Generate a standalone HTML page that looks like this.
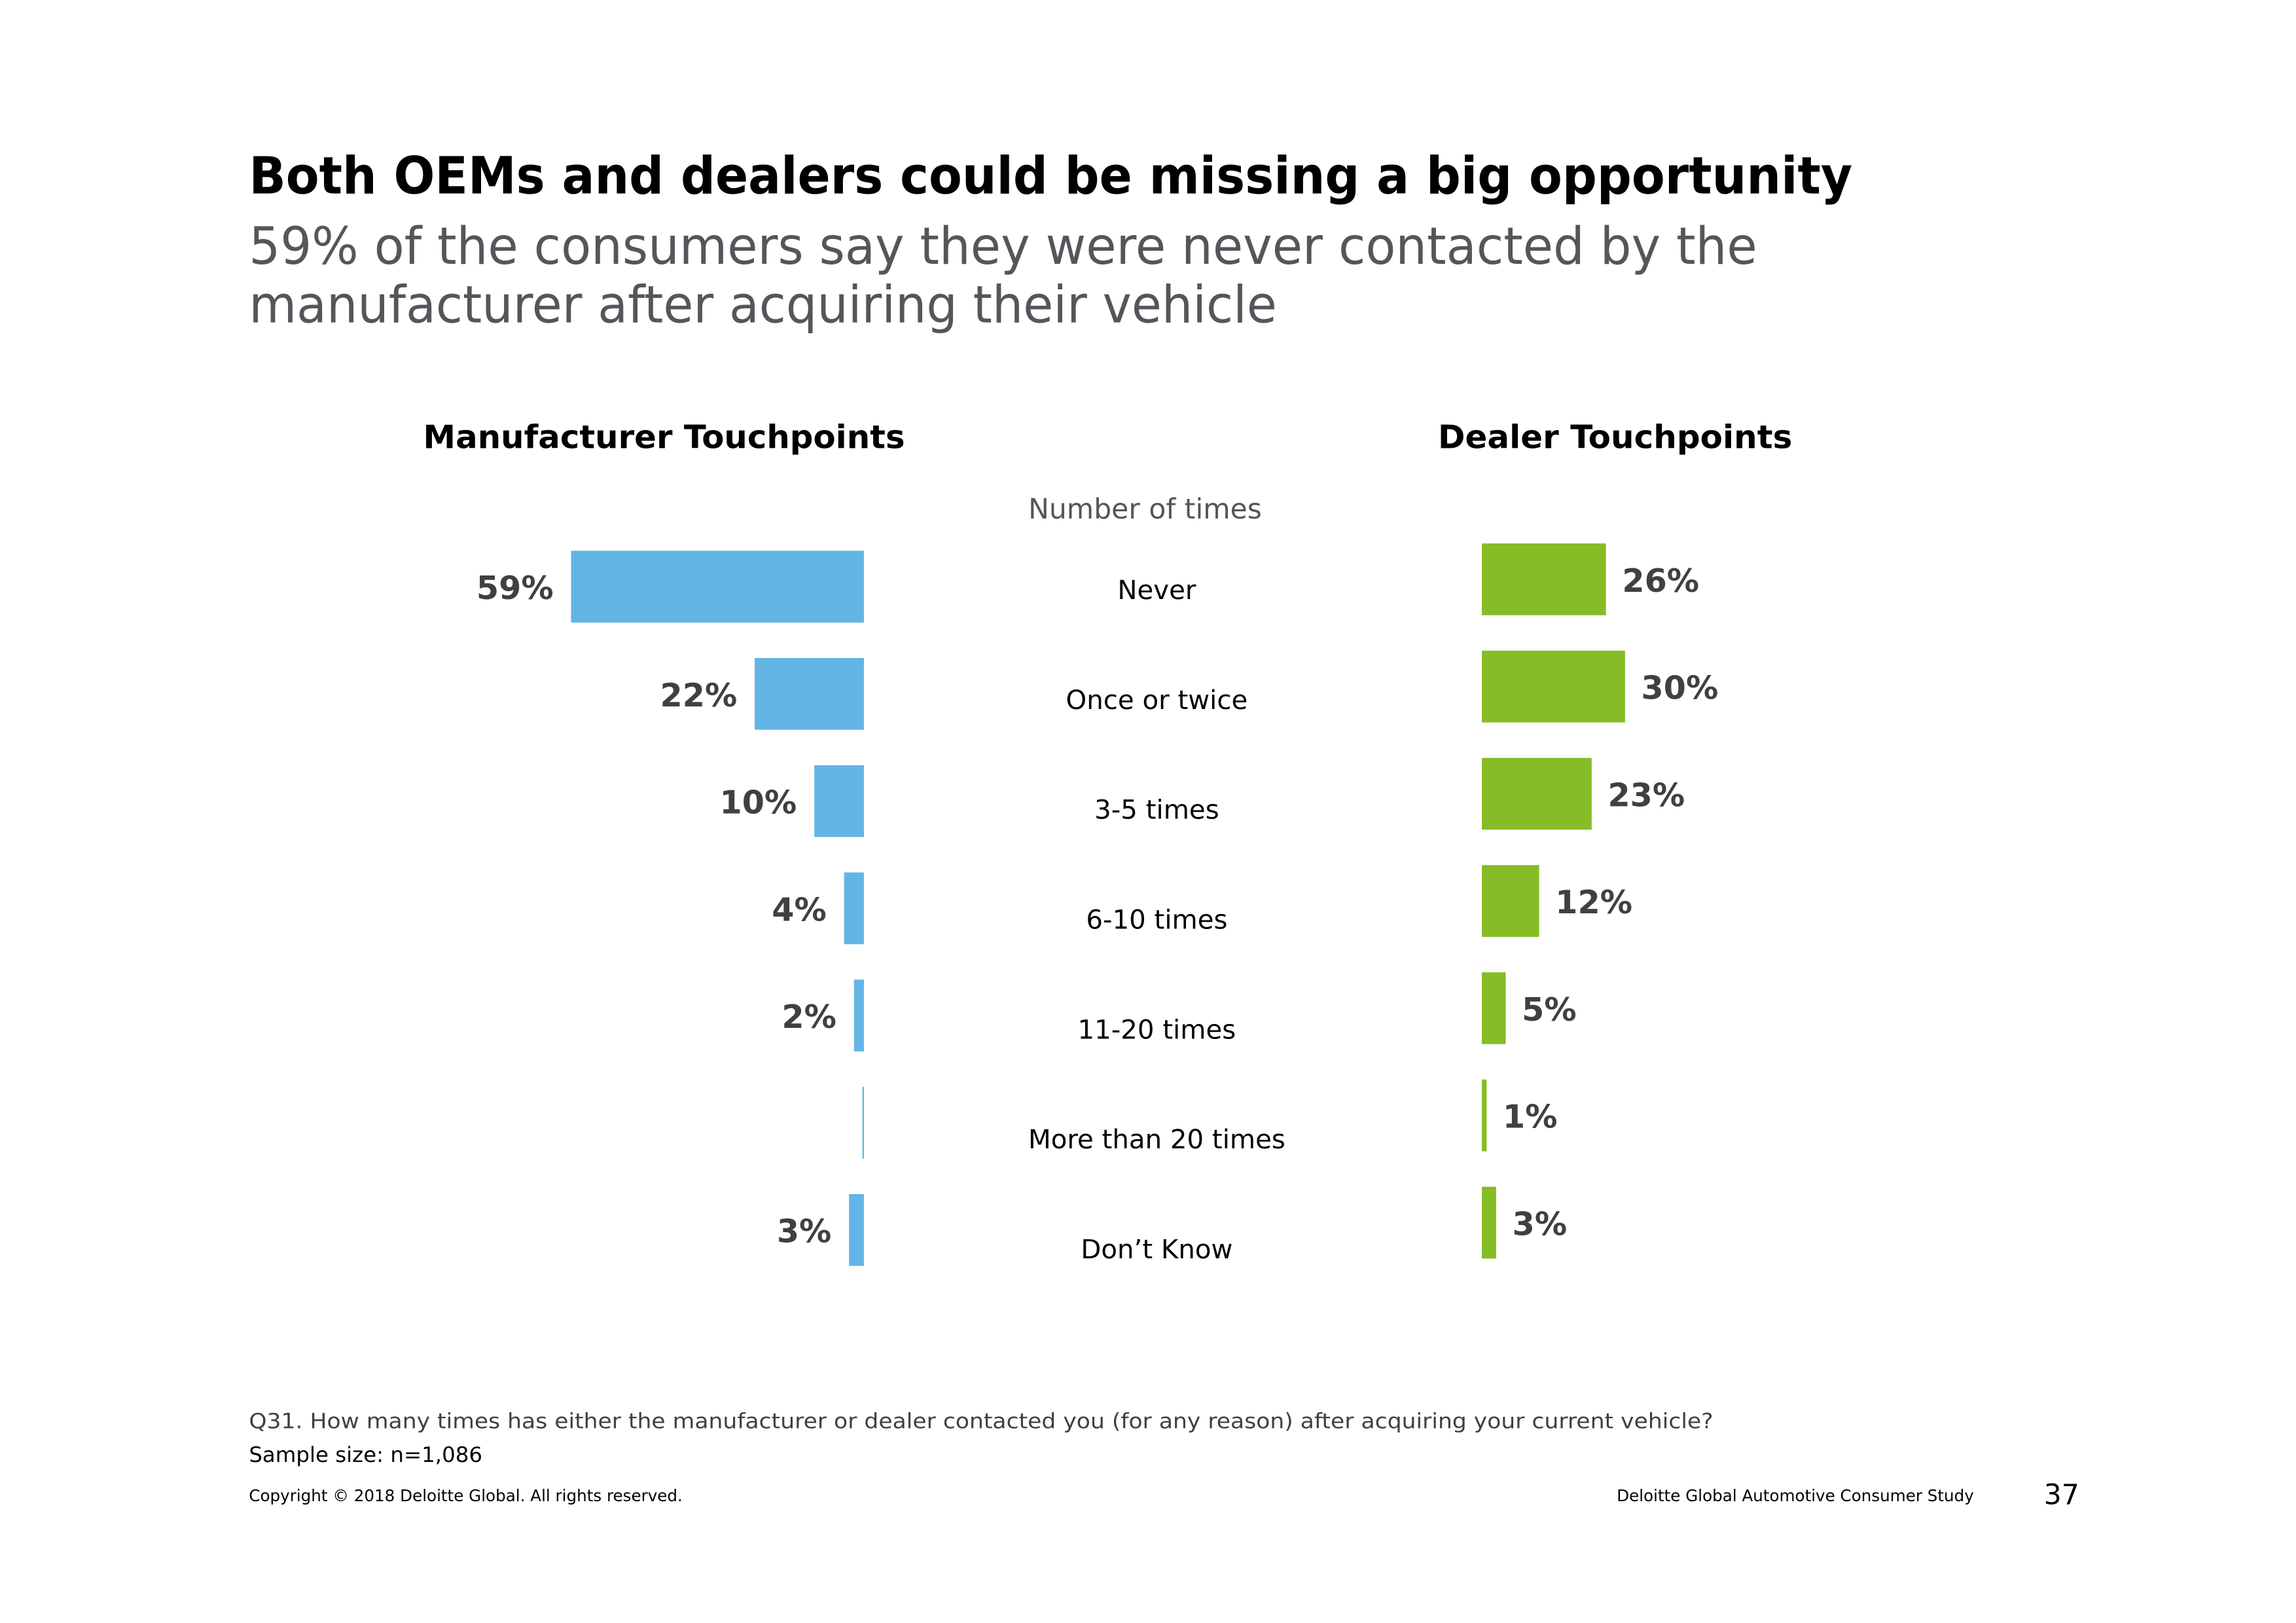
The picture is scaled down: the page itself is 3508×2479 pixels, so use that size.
<!DOCTYPE html>
<html><head><meta charset="utf-8"><style>
html,body{margin:0;padding:0;background:#fff;}
svg{display:block;font-family:"DejaVu Sans","Liberation Sans",sans-serif;}
</style></head><body>
<svg id="chart" width="3508" height="2479" viewBox="0 0 1568 1108">
<text x="170" y="132" font-size="35" font-weight="bold" fill="#000" textLength="1095" lengthAdjust="spacingAndGlyphs">Both OEMs and dealers could be missing a big opportunity</text>
<text x="170" y="180" font-size="35" fill="#53565a" textLength="1030" lengthAdjust="spacingAndGlyphs">59% of the consumers say they were never contacted by the</text>
<text x="170" y="220" font-size="35" fill="#53565a" textLength="702" lengthAdjust="spacingAndGlyphs">manufacturer after acquiring their vehicle</text>
<text x="289" y="306" font-size="22" font-weight="bold" fill="#000" textLength="329" lengthAdjust="spacingAndGlyphs">Manufacturer Touchpoints</text>
<text x="982" y="306" font-size="22" font-weight="bold" fill="#000" textLength="242" lengthAdjust="spacingAndGlyphs">Dealer Touchpoints</text>
<text x="782" y="354" font-size="19" fill="#53565a" text-anchor="middle">Number of times</text>
<g id="bars"></g>
<text x="170" y="975" font-size="14.5" fill="#404040" textLength="1000" lengthAdjust="spacingAndGlyphs">Q31. How many times has either the manufacturer or dealer contacted you (for any reason) after acquiring your current vehicle?</text>
<text x="170" y="998" font-size="14.5" fill="#000">Sample size: n=1,086</text>
<text x="170" y="1025" font-size="11" fill="#000">Copyright © 2018 Deloitte Global. All rights reserved.</text>
<text x="1348" y="1025" font-size="11" fill="#000" text-anchor="end">Deloitte Global Automotive Consumer Study</text>
<text x="1420" y="1027" font-size="19" fill="#000" text-anchor="end">37</text>
</svg>
<script>
const categories = ["Never","Once or twice","3-5 times","6-10 times","11-20 times","More than 20 times","Don\u2019t Know"];
const manufacturerValues = [59,22,10,4,2,0.3,3];
const manufacturerLabels = ["59%","22%","10%","4%","2%","","3%"];
const dealerValues = [26,30,23,12,5,1,3];
const dealerLabels = ["26%","30%","23%","12%","5%","1%","3%"];

const NS = "http://www.w3.org/2000/svg";
const g = document.getElementById("bars");
const mx = v => v * 3.39;
const dx = v => v * 3.26;
const mRowY = i => 376 + i * 73.2;
const dRowY = i => 371 + i * 73.2;
const catY = i => 409 + i * 75;
function mk(tag, attrs, text) {
  const el = document.createElementNS(NS, tag);
  for (const k in attrs) el.setAttribute(k, attrs[k]);
  if (text !== undefined) el.textContent = text;
  g.appendChild(el);
  return el;
}
categories.forEach((c, i) => {
  const w = mx(manufacturerValues[i]);
  const r = mk("rect", {x: 590 - w, y: mRowY(i), width: w, height: 49, fill: "#62b5e5"});
  
  
  if (manufacturerLabels[i]) {
    const t = mk("text", {x: 590 - w - 12, y: mRowY(i) + 33, "font-size": 22, "font-weight": "bold", fill: "#404040", "text-anchor": "end"}, manufacturerLabels[i]);
    
    
  }
  const ct = mk("text", {x: 790, y: catY(i), "font-size": 18, fill: "#000", "text-anchor": "middle"}, c);
  
  
  const dw = dx(dealerValues[i]);
  const d = mk("rect", {x: 1012, y: dRowY(i), width: dw, height: 49, fill: "#86bc25"});
  
  
  const dt = mk("text", {x: 1012 + dw + 11, y: dRowY(i) + 33, "font-size": 22, "font-weight": "bold", fill: "#404040"}, dealerLabels[i]);
  
  
});
</script>
</body></html>
